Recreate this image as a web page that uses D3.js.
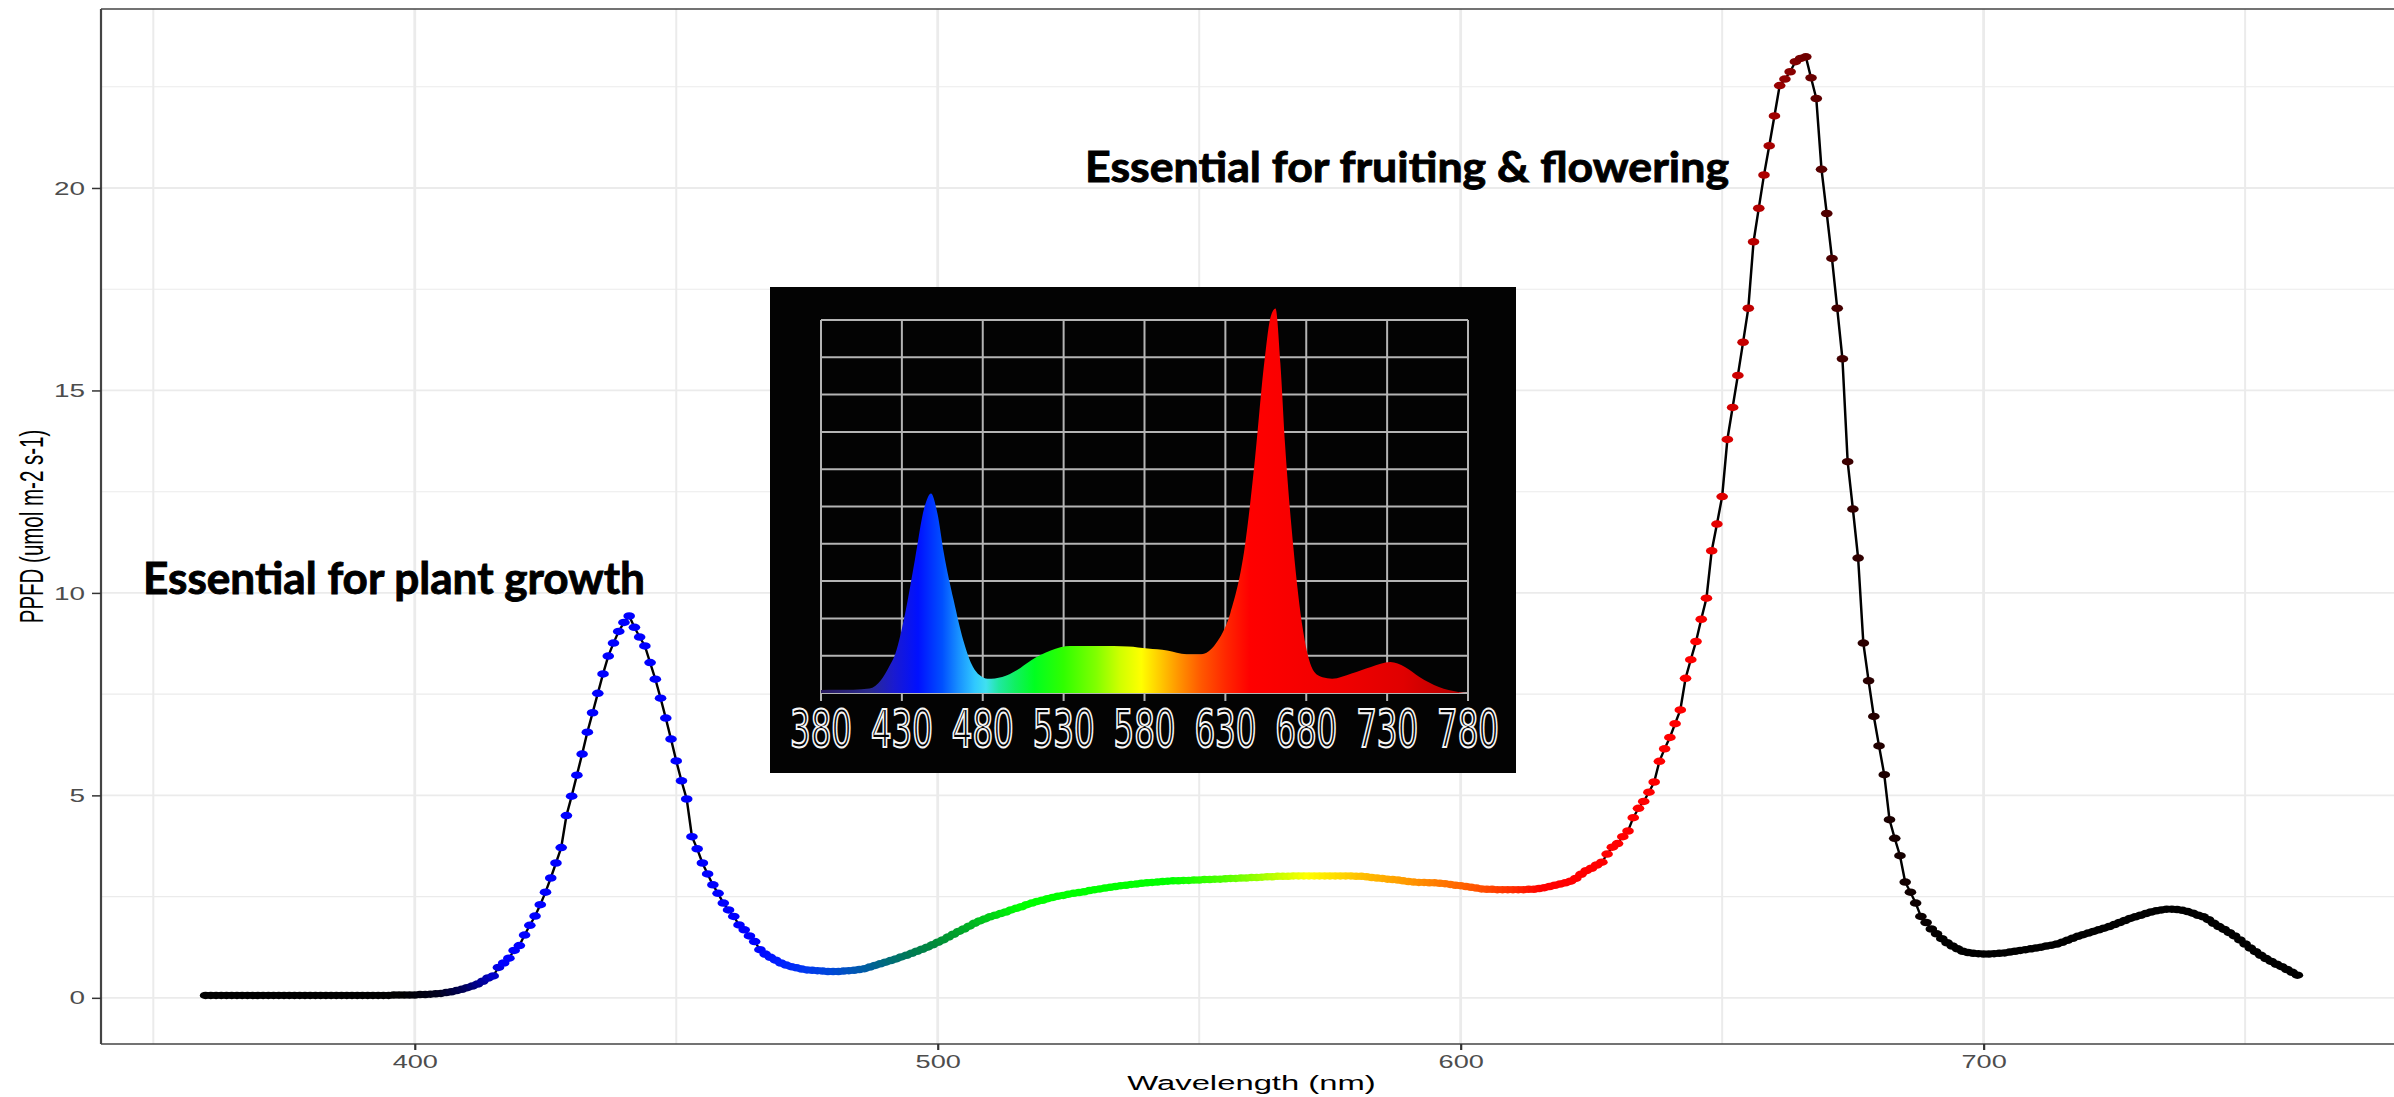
<!DOCTYPE html>
<html><head><meta charset="utf-8">
<script src="https://cdn.jsdelivr.net/npm/d3@7"></script>
<style>html,body{margin:0;padding:0;background:#fff;} svg{display:block}</style>
</head><body>
<svg id="chart" width="2394" height="1097"></svg>
<script>
// ---------------- DATA ----------------
const wavelengths = [
 360,361,362,363,364,365,366,367,368,369,
 370,371,372,373,374,375,376,377,378,379,
 380,381,382,383,384,385,386,387,388,389,
 390,391,392,393,394,395,396,397,398,399,
 400,401,402,403,404,405,406,407,408,409,
 410,411,412,413,414,415,416,417,418,419,
 420,421,422,423,424,425,426,427,428,429,
 430,431,432,433,434,435,436,437,438,439,
 440,441,442,443,444,445,446,447,448,449,
 450,451,452,453,454,455,456,457,458,459,
 460,461,462,463,464,465,466,467,468,469,
 470,471,472,473,474,475,476,477,478,479,
 480,481,482,483,484,485,486,487,488,489,
 490,491,492,493,494,495,496,497,498,499,
 500,501,502,503,504,505,506,507,508,509,
 510,511,512,513,514,515,516,517,518,519,
 520,521,522,523,524,525,526,527,528,529,
 530,531,532,533,534,535,536,537,538,539,
 540,541,542,543,544,545,546,547,548,549,
 550,551,552,553,554,555,556,557,558,559,
 560,561,562,563,564,565,566,567,568,569,
 570,571,572,573,574,575,576,577,578,579,
 580,581,582,583,584,585,586,587,588,589,
 590,591,592,593,594,595,596,597,598,599,
 600,601,602,603,604,605,606,607,608,609,
 610,611,612,613,614,615,616,617,618,619,
 620,621,622,623,624,625,626,627,628,629,
 630,631,632,633,634,635,636,637,638,639,
 640,641,642,643,644,645,646,647,648,649,
 650,651,652,653,654,655,656,657,658,659,
 660,661,662,663,664,665,666,667,668,669,
 670,671,672,673,674,675,676,677,678,679,
 680,681,682,683,684,685,686,687,688,689,
 690,691,692,693,694,695,696,697,698,699,
 700,701,702,703,704,705,706,707,708,709,
 710,711,712,713,714,715,716,717,718,719,
 720,721,722,723,724,725,726,727,728,729,
 730,731,732,733,734,735,736,737,738,739,
 740,741,742,743,744,745,746,747,748,749,
 750,751,752,753,754,755,756,757,758,759,
 760
];
const ppfd = [
 0.06,0.06,0.06,0.06,0.06,0.06,0.06,0.06,0.06,0.06,
 0.06,0.06,0.06,0.06,0.06,0.06,0.06,0.06,0.06,0.06,
 0.06,0.06,0.06,0.06,0.06,0.06,0.06,0.06,0.06,0.06,
 0.06,0.06,0.06,0.06,0.06,0.06,0.07,0.07,0.07,0.07,
 0.07,0.08,0.08,0.09,0.10,0.11,0.13,0.15,0.18,0.21,
 0.25,0.29,0.34,0.41,0.49,0.54,0.75,0.86,0.98,1.17,
 1.29,1.55,1.79,2.02,2.30,2.61,2.96,3.33,3.71,4.50,
 4.98,5.50,6.02,6.56,7.04,7.52,8.00,8.44,8.76,9.05,
 9.27,9.43,9.15,8.91,8.69,8.28,7.87,7.40,6.91,6.39,
 5.85,5.36,4.91,3.98,3.68,3.33,3.06,2.79,2.58,2.34,
 2.17,2.01,1.80,1.68,1.53,1.39,1.19,1.08,1.00,0.93,
 0.86,0.81,0.77,0.74,0.71,0.69,0.68,0.67,0.66,0.65,
 0.65,0.65,0.66,0.67,0.68,0.70,0.72,0.76,0.80,0.84,
 0.88,0.92,0.96,1.01,1.05,1.10,1.15,1.20,1.25,1.31,
 1.37,1.43,1.50,1.57,1.64,1.70,1.77,1.84,1.90,1.95,
 2.00,2.04,2.08,2.12,2.17,2.21,2.25,2.30,2.34,2.38,
 2.41,2.45,2.48,2.51,2.53,2.56,2.58,2.60,2.62,2.65,
 2.67,2.69,2.71,2.73,2.75,2.77,2.78,2.80,2.81,2.83,
 2.84,2.85,2.86,2.87,2.88,2.89,2.89,2.90,2.90,2.91,
 2.91,2.92,2.92,2.93,2.93,2.94,2.95,2.95,2.96,2.96,
 2.97,2.97,2.98,2.99,2.99,3.00,3.00,3.00,3.01,3.01,
 3.01,3.01,3.01,3.01,3.01,3.01,3.01,3.01,3.01,3.01,
 3.00,3.00,2.99,2.97,2.96,2.95,2.93,2.92,2.91,2.89,
 2.87,2.86,2.85,2.85,2.84,2.84,2.83,2.82,2.80,2.78,
 2.77,2.75,2.73,2.71,2.69,2.68,2.68,2.67,2.67,2.67,
 2.67,2.67,2.67,2.68,2.68,2.70,2.72,2.75,2.78,2.81,
 2.84,2.88,2.95,3.05,3.14,3.20,3.28,3.35,3.55,3.72,
 3.81,3.98,4.12,4.45,4.68,4.85,5.08,5.33,5.84,6.15,
 6.43,6.77,7.11,7.89,8.35,8.80,9.35,9.87,11.04,11.70,
 12.38,13.79,14.58,15.37,16.19,17.03,18.67,19.50,20.32,21.04,
 21.78,22.53,22.69,22.87,23.12,23.20,23.24,22.72,22.21,20.46,
 19.37,18.26,17.03,15.78,13.24,12.07,10.86,8.76,7.83,6.95,
 6.22,5.51,4.40,3.94,3.51,2.86,2.61,2.34,2.01,1.86,
 1.70,1.58,1.46,1.36,1.28,1.21,1.15,1.12,1.10,1.09,
 1.08,1.08,1.09,1.10,1.11,1.13,1.15,1.17,1.19,1.21,
 1.23,1.25,1.28,1.30,1.33,1.37,1.42,1.47,1.52,1.56,
 1.60,1.64,1.68,1.72,1.76,1.81,1.86,1.91,1.96,2.00,
 2.04,2.08,2.12,2.15,2.17,2.19,2.19,2.18,2.16,2.13,
 2.09,2.04,2.00,1.93,1.84,1.76,1.69,1.61,1.53,1.43,
 1.33,1.23,1.14,1.05,0.97,0.90,0.83,0.77,0.70,0.63,
 0.56
];
const xTicks = [400, 500, 600, 700];
const xMinorBreaks = [350, 450, 550, 650, 750];
const yTicks = [0, 5, 10, 15, 20];
const yMinorBreaks = [2.5, 7.5, 12.5, 17.5, 22.5];
const xTitle = "Wavelength (nm)";
const yTitle = "PPFD (umol m-2 s-1)";

// inset spectrum picture (relative units of its 10-row grid)
const insetWavelengths = [380,390,400,410,417,422,426,432,438,444,448,452,456,462,468,474,478,483,492,501,510,522,534,552,570,582,594,606,615,624,633,642,648,654,658,661,664,667,672,678,685,690,696,708,720,732,741,750,762,774,780];
const insetValues      = [0.08,0.09,0.09,0.12,0.34,0.70,1.06,2.13,3.56,4.99,5.35,4.81,3.74,2.49,1.41,0.70,0.48,0.38,0.43,0.61,0.88,1.14,1.26,1.26,1.25,1.19,1.14,1.04,1.04,1.32,2.13,3.92,6.15,8.84,10.09,10.31,8.84,6.60,3.92,1.68,0.56,0.42,0.38,0.52,0.70,0.83,0.70,0.43,0.16,0.03,0.0];
const insetTicks = [380,430,480,530,580,630,680,730,780];
const insetRows = [0,1,2,3,4,5,6,7,8,9,10];

const annotationTexts = ["Essential for plant growth", "Essential for fruiting & flowering"];

// ---------------- STYLE ----------------
const pointColorWl = [360,398,405,410,414,417,465,470,475,480,485,490,495,500,505,510,516,545,555,565,571,576,581,590,600,610,616,645,650,655,660,665,670,676,682,692];
const pointColors  = ["#000000","#000000","#000020","#000060","#0000b0","#0000ff","#0000ff","#0020ff","#0038f0","#0048d8","#0058b0","#006a80","#007a55","#008c38","#00a828","#00cc18","#00ff00","#00ff00","#50ff00","#c0ff00","#ffff00","#ffe000","#ffc000","#ff9900","#ff6600","#ff3000","#ff0000","#ff0000","#e00000","#c00000","#a00000","#780000","#500000","#300000","#1a0000","#000000"];
const insetColorWl = [380,410,425,440,455,465,475,482,490,500,512,530,550,565,578,590,602,615,630,645,700,740,780];
const insetColors  = ["#2a1a5e","#2a2a90","#1a1ad0","#0010ff","#0050ff","#1890ff","#30c8ff","#40e0f0","#20e8a0","#10f060","#00ff20","#30ff00","#80ff00","#d0ff00","#ffff00","#ffc800","#ff9000","#ff5800","#ff2800","#ff0000","#f00000","#e00000","#b00000"];

const SX = 1.55;           // horizontal stretch of the original picture
const panel = {left: 101, top: 9, right: 2402, bottom: 1044};
const axisFont = "'Liberation Sans', Arial, Helvetica, sans-serif";

// ---------------- CHART ----------------
const svg = d3.select("#chart");
svg.append("rect").attr("width", 2394).attr("height", 1097).attr("fill", "#fff");

const x = d3.scaleLinear().domain([340, 780]).range([panel.left, panel.right]);
const y = d3.scaleLinear().domain([-1.14, 24.42]).range([panel.bottom, panel.top]);
const color = d3.scaleLinear().domain(pointColorWl).range(pointColors).interpolate(d3.interpolateRgb).clamp(true);

// grid
const grid = svg.append("g");
grid.selectAll(".vminor").data(xMinorBreaks).join("line")
  .attr("x1", d => x(d)).attr("x2", d => x(d)).attr("y1", panel.top).attr("y2", panel.bottom)
  .attr("stroke", "#ebebeb").attr("stroke-width", 2.0);
grid.selectAll(".vmajor").data(xTicks).join("line")
  .attr("x1", d => x(d)).attr("x2", d => x(d)).attr("y1", panel.top).attr("y2", panel.bottom)
  .attr("stroke", "#ebebeb").attr("stroke-width", 2.8);
grid.selectAll(".hminor").data(yMinorBreaks).join("line")
  .attr("x1", panel.left).attr("x2", panel.right).attr("y1", d => y(d)).attr("y2", d => y(d))
  .attr("stroke", "#ebebeb").attr("stroke-width", 1.1);
grid.selectAll(".hmajor").data(yTicks).join("line")
  .attr("x1", panel.left).attr("x2", panel.right).attr("y1", d => y(d)).attr("y2", d => y(d))
  .attr("stroke", "#ebebeb").attr("stroke-width", 1.8);

// data (drawn in a horizontally stretched group, like the original)
const data = wavelengths.map((w, i) => ({w, v: ppfd[i]}));
const xs = x.copy().range([panel.left / SX, panel.right / SX]);
const gData = svg.append("g").attr("transform", `scale(${SX},1)`);
gData.append("path").datum(data)
  .attr("d", d3.line().x(d => xs(d.w)).y(d => y(d.v)))
  .attr("fill", "none").attr("stroke", "#000").attr("stroke-width", 1.6);
gData.selectAll("circle").data(data).join("circle")
  .attr("cx", d => xs(d.w)).attr("cy", d => y(d.v)).attr("r", 3.75)
  .attr("fill", d => color(d.w));

// panel border
const border = svg.append("g").attr("stroke", "#444").attr("fill", "none");
border.append("line").attr("x1", panel.left).attr("x2", panel.left).attr("y1", panel.top).attr("y2", panel.bottom).attr("stroke-width", 2.2);
border.append("line").attr("x1", panel.left).attr("x2", panel.right).attr("y1", panel.top).attr("y2", panel.top).attr("stroke-width", 1.6);
border.append("line").attr("x1", panel.left).attr("x2", panel.right).attr("y1", panel.bottom).attr("y2", panel.bottom).attr("stroke-width", 1.6);

// axes
const gx = svg.append("g").attr("transform", `translate(0,${panel.bottom})`)
  .call(d3.axisBottom(x).tickValues(xTicks).tickSize(6).tickFormat(d3.format("d")));
gx.select(".domain").remove();
gx.selectAll(".tick line").attr("stroke", "#333").attr("stroke-width", 2.2);
gx.selectAll(".tick text").attr("y", 24).attr("dy", 0).attr("transform", `scale(${SX},1)`)
  .attr("font-family", axisFont).attr("font-size", 17.5).attr("fill", "#4d4d4d");

const gy = svg.append("g").attr("transform", `translate(${panel.left},0)`)
  .call(d3.axisLeft(y).tickValues(yTicks).tickSize(9).tickFormat(d3.format("d")));
gy.select(".domain").remove();
gy.selectAll(".tick line").attr("stroke", "#333").attr("stroke-width", 1.5);
gy.selectAll(".tick text").attr("x", -16 / SX).attr("dy", "0.34em").attr("transform", `scale(${SX},1)`)
  .attr("font-family", axisFont).attr("font-size", 18).attr("fill", "#4d4d4d");

svg.append("text").text(xTitle)
  .attr("transform", `translate(${(panel.left + panel.right) / 2},1090) scale(1.6,1)`)
  .attr("text-anchor", "middle").attr("font-family", axisFont).attr("font-size", 20.5).attr("fill", "#000");
svg.append("text").text(yTitle)
  .attr("transform", `translate(43,${(panel.top + panel.bottom) / 2}) scale(1.6,1) rotate(-90)`)
  .attr("text-anchor", "middle").attr("font-family", axisFont).attr("font-size", 20.5).attr("fill", "#000");

// ---------------- INSET ----------------
const inset = {left: 770, top: 287, right: 1516, bottom: 773};
const gi = svg.append("g");
gi.append("rect").attr("x", inset.left).attr("y", inset.top)
  .attr("width", inset.right - inset.left).attr("height", inset.bottom - inset.top).attr("fill", "#030303");
const ix = d3.scaleLinear().domain([380, 780]).range([821, 1468]);
const iy = d3.scaleLinear().domain([0, 10]).range([693, 320]);

const defs = svg.append("defs");
const grad = defs.append("linearGradient").attr("id", "spec")
  .attr("gradientUnits", "userSpaceOnUse").attr("x1", ix(380)).attr("x2", ix(780)).attr("y1", 0).attr("y2", 0);
grad.selectAll("stop").data(insetColorWl).join("stop")
  .attr("offset", d => (d - 380) / 400).attr("stop-color", (d, i) => insetColors[i]);

gi.selectAll(".ih").data(insetRows).join("line")
  .attr("x1", ix(380)).attr("x2", ix(780)).attr("y1", d => iy(d)).attr("y2", d => iy(d))
  .attr("stroke", "#b4b4b4").attr("stroke-width", 2);
gi.selectAll(".iv").data(insetTicks).join("line")
  .attr("x1", d => ix(d)).attr("x2", d => ix(d)).attr("y1", iy(10)).attr("y2", iy(0) + 8)
  .attr("stroke", "#b4b4b4").attr("stroke-width", 2);

const insetData = insetWavelengths.map((w, i) => ({w, v: insetValues[i]}));
gi.append("path").datum(insetData)
  .attr("d", d3.area().x(d => ix(d.w)).y0(iy(0)).y1(d => iy(d.v)).curve(d3.curveMonotoneX))
  .attr("fill", "url(#spec)");

gi.selectAll(".il").data(insetTicks).join("text")
  .attr("x", d => ix(d)).attr("y", 747).text(d => d)
  .attr("text-anchor", "middle")
  .attr("font-family", "'Liberation Sans Narrow', 'DejaVu Sans Condensed', 'Arial Narrow', sans-serif")
  .attr("font-size", 51).attr("textLength", 62).attr("lengthAdjust", "spacingAndGlyphs")
  .attr("fill", "#000").attr("stroke", "#f6f6f6").attr("stroke-width", 2.1);

// ---------------- ANNOTATIONS ----------------
svg.append("text").text(annotationTexts[0])
  .attr("x", 143).attr("y", 594).attr("font-family", "Lato, 'Open Sans', sans-serif").attr("font-weight", 700)
  .attr("font-size", 44).attr("textLength", 502).attr("lengthAdjust", "spacingAndGlyphs")
  .attr("fill", "#000").attr("stroke", "#000").attr("stroke-width", 0.9);
svg.append("text").text(annotationTexts[1])
  .attr("x", 1085).attr("y", 182).attr("font-family", "Lato, 'Open Sans', sans-serif").attr("font-weight", 700)
  .attr("font-size", 42.5).attr("textLength", 644).attr("lengthAdjust", "spacingAndGlyphs")
  .attr("fill", "#000").attr("stroke", "#000").attr("stroke-width", 0.9);
</script>
</body></html>
